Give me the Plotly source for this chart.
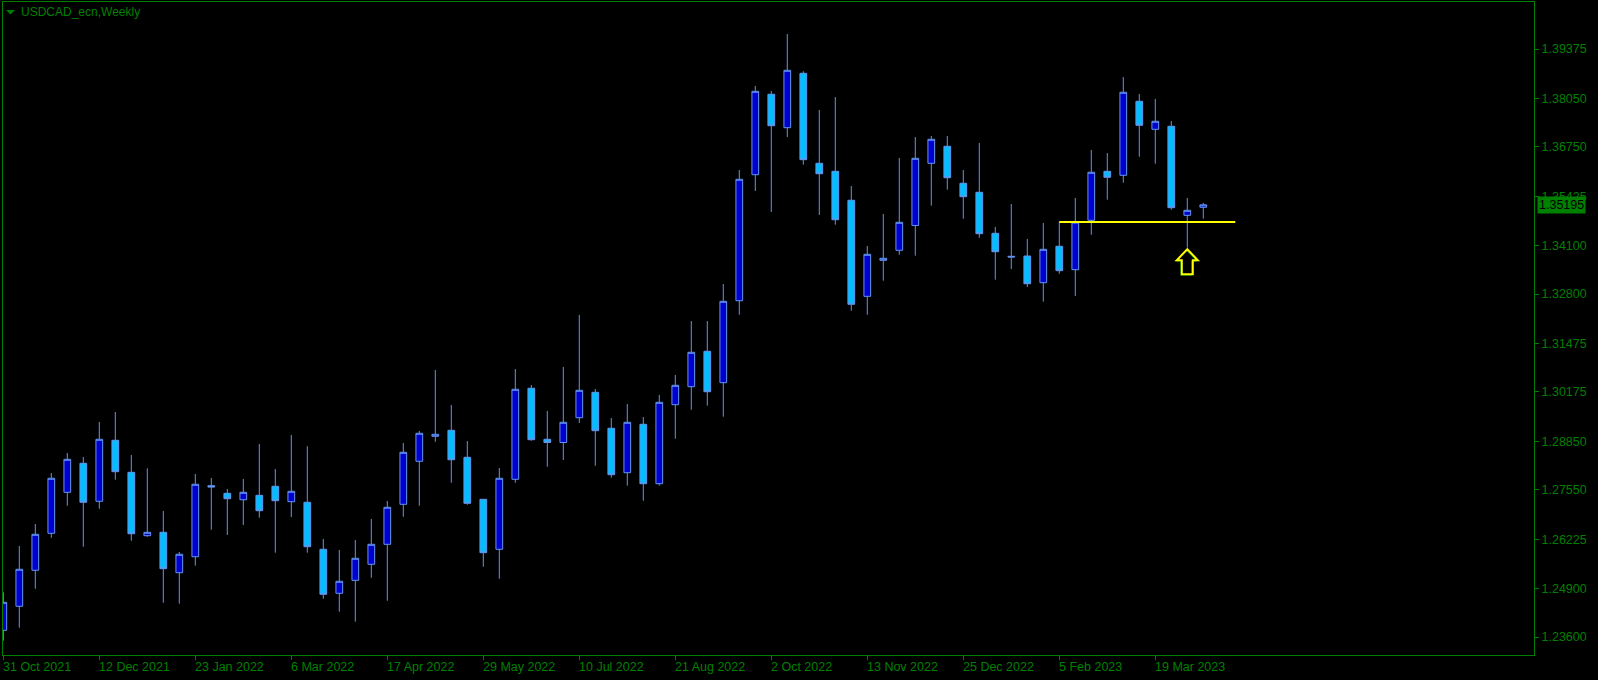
import plotly.graph_objects as go

# ---- data (weekly USDCAD) ----
week_index = list(range(76))
opens = [
    1.23782, 1.24426, 1.25392, 1.26384, 1.27484, 1.28262, 1.27243, 1.28879, 1.28020, 1.26320,
    1.26411, 1.25327, 1.25756, 1.27661, 1.27457, 1.27285, 1.27403, 1.27645, 1.27232, 1.27216,
    1.25955, 1.24775, 1.25123, 1.25553, 1.26089, 1.27162, 1.28316, 1.28986, 1.29147, 1.28423,
    1.27296, 1.25955, 1.27833, 1.30274, 1.28906, 1.28820, 1.29485, 1.30166, 1.29201, 1.28010,
    1.29308, 1.27715, 1.29834, 1.30317, 1.31266, 1.30424, 1.32623, 1.36003, 1.38160, 1.37264,
    1.38723, 1.36309, 1.36094, 1.35317, 1.32741, 1.33707, 1.33975, 1.34641, 1.36309, 1.36765,
    1.35773, 1.35531, 1.34431, 1.33814, 1.33822, 1.33106, 1.34083, 1.33455, 1.34780, 1.36094,
    1.35987, 1.37972, 1.37221, 1.37302, 1.34914, 1.35129]
highs = [
    1.24801, 1.26044, 1.26634, 1.28002, 1.28538, 1.28431, 1.29370, 1.29638, 1.28485, 1.28128,
    1.26982, 1.25883, 1.27975, 1.27868, 1.27572, 1.27841, 1.28780, 1.28109, 1.29021, 1.28718,
    1.26231, 1.25936, 1.26204, 1.26768, 1.27251, 1.28806, 1.29128, 1.30765, 1.29826, 1.28860,
    1.27300, 1.28136, 1.30791, 1.30362, 1.29665, 1.30845, 1.32240, 1.30255, 1.29477, 1.29853,
    1.29504, 1.30094, 1.30630, 1.32079, 1.32079, 1.33071, 1.36129, 1.38383, 1.38248, 1.39777,
    1.38777, 1.37739, 1.38087, 1.35700, 1.34091, 1.34949, 1.36451, 1.37015, 1.37041, 1.37041,
    1.36129, 1.36854, 1.34600, 1.35217, 1.34278, 1.34708, 1.34743, 1.35378, 1.36666, 1.36585,
    1.38624, 1.38168, 1.38034, 1.37444, 1.35378, 1.35244]
lows = [
    1.23503, 1.23852, 1.24898, 1.26266, 1.27125, 1.26025, 1.27044, 1.27822, 1.26186, 1.26293,
    1.24523, 1.24496, 1.25515, 1.26481, 1.26339, 1.26607, 1.26803, 1.25864, 1.26821, 1.25864,
    1.24630, 1.24281, 1.24013, 1.25193, 1.24576, 1.26829, 1.27125, 1.28841, 1.27741, 1.27151,
    1.25488, 1.25166, 1.27741, 1.28868, 1.28171, 1.28350, 1.29343, 1.28197, 1.27876, 1.27661,
    1.27259, 1.27661, 1.28922, 1.29700, 1.29807, 1.29512, 1.32248, 1.35566, 1.35003, 1.37015,
    1.36272, 1.34922, 1.34662, 1.32355, 1.32248, 1.33160, 1.33857, 1.33831, 1.35172, 1.35601,
    1.34823, 1.34313, 1.33187, 1.33474, 1.32991, 1.32597, 1.33348, 1.32750, 1.34394, 1.35333,
    1.35789, 1.36486, 1.36298, 1.35064, 1.34045, 1.34823]
closes = [
    1.24533, 1.25419, 1.26357, 1.27860, 1.28369, 1.27216, 1.28906, 1.28037, 1.26373, 1.26411,
    1.25435, 1.25821, 1.27699, 1.27626, 1.27312, 1.27484, 1.26990, 1.27259, 1.27511, 1.26025,
    1.24748, 1.25097, 1.25714, 1.26089, 1.27082, 1.28557, 1.29067, 1.29040, 1.28358, 1.27189,
    1.25864, 1.27860, 1.30247, 1.28895, 1.28820, 1.29362, 1.30220, 1.29136, 1.27956, 1.29362,
    1.27715, 1.29898, 1.30354, 1.31239, 1.30182, 1.32607, 1.35880, 1.38240, 1.37318, 1.38804,
    1.36406, 1.36030, 1.34796, 1.32527, 1.33868, 1.33761, 1.34726, 1.36443, 1.36953, 1.35923,
    1.35413, 1.34421, 1.33938, 1.33796, 1.33079, 1.34002, 1.33428, 1.34734, 1.36068, 1.35934,
    1.38214, 1.37328, 1.37436, 1.35118, 1.35048, 1.35195]

date_tick_index = [0, 6, 12, 18, 24, 30, 36, 42, 48, 54, 60, 66, 72]
date_tick_labels = ["31 Oct 2021", "12 Dec 2021", "23 Jan 2022", "6 Mar 2022", "17 Apr 2022",
                    "29 May 2022", "10 Jul 2022", "21 Aug 2022", "2 Oct 2022", "13 Nov 2022",
                    "25 Dec 2022", "5 Feb 2023", "19 Mar 2023"]
price_ticks = [1.39375, 1.38050, 1.36750, 1.35425, 1.34100, 1.32800, 1.31475,
               1.30175, 1.28850, 1.27550, 1.26225, 1.24900, 1.23600]

level_price = 1.34734     # yellow horizontal trend line
level_start = 66
level_end = 77
arrow_index = 74          # up-arrow marker below this candle's low
last_price = closes[-1]
title_text = "USDCAD_ecn,Weekly"

# ---- style ----
GREEN = "#008000"
WICK = "#6495ED"
BULL = "#0000CD"
BEAR = "#00BFFF"
FONT = "Liberation Sans"

fig = go.Figure()
fig.add_trace(go.Candlestick(
    x=week_index, open=opens, high=highs, low=lows, close=closes,
    increasing=dict(fillcolor=BULL, line=dict(color=WICK, width=1)),
    decreasing=dict(fillcolor=BEAR, line=dict(color=WICK, width=1)),
    whiskerwidth=0, showlegend=False, hoverinfo="skip",
))

# yellow level line
fig.add_trace(go.Scatter(
    x=[level_start, level_end], y=[level_price, level_price], mode="lines",
    line=dict(color="#FFFF00", width=2), showlegend=False, hoverinfo="skip",
))

shapes = []
# up arrow (outline) anchored at the candle low, drawn in pixel offsets
arrow_path = "M 0,-1.5 L 10.5,-12.5 L 5.5,-12.5 L 5.5,-26.5 L -5.5,-26.5 L -5.5,-12.5 L -10.5,-12.5 Z"
arrow_shadow = "M -1,-2.5 L 9.5,-13.5 L 4.5,-13.5 L 4.5,-27.5 L -6.5,-27.5 L -6.5,-13.5 L -11.5,-13.5 Z"
for path, col, w in ((arrow_shadow, GREEN, 1), (arrow_path, "#FFFF00", 2)):
    shapes.append(dict(type="path", xref="x", yref="y", xsizemode="pixel", ysizemode="pixel",
                       xanchor=arrow_index, yanchor=lows[arrow_index], path=path,
                       line=dict(color=col, width=w), fillcolor="rgba(0,0,0,0)", layer="above"))
# small triangle before the title
shapes.append(dict(type="path", xref="paper", yref="paper", xsizemode="pixel", ysizemode="pixel",
                   xanchor=0, yanchor=1, path="M 3,-8 L 12,-8 L 7.5,-12.5 Z",
                   line=dict(color=GREEN, width=0), fillcolor=GREEN))

annotations = []
for xi, lab in zip(date_tick_index, date_tick_labels):
    annotations.append(dict(x=xi, y=0, xref="x", yref="paper", text=lab, showarrow=False,
                            xanchor="left", yanchor="middle", xshift=-2, yshift=-12,
                            font=dict(family=FONT, size=12.5, color=GREEN)))
annotations.append(dict(x=0, y=1, xref="paper", yref="paper", text=title_text, showarrow=False,
                        xanchor="left", yanchor="middle", xshift=16, yshift=-10,
                        font=dict(family=FONT, size=12, color=GREEN)))
annotations.append(dict(x=1, y=last_price, xref="paper", yref="y", text=f"{last_price:.5f}",
                        showarrow=False, xanchor="left", yanchor="middle", xshift=3,
                        bgcolor=GREEN, borderpad=1,
                        font=dict(family=FONT, size=12.5, color="#000000")))

fig.update_layout(
    width=1598, height=680,
    margin=dict(l=3, r=64, t=2, b=25, pad=0),
    paper_bgcolor="#000000", plot_bgcolor="#000000",
    boxgap=0.4,
    showlegend=False,
    shapes=shapes, annotations=annotations,
    xaxis=dict(range=[-0.019, 95.67], showgrid=False, zeroline=False,
               showline=True, linecolor=GREEN, linewidth=1, mirror=True,
               tickmode="array", tickvals=date_tick_index, showticklabels=False,
               ticks="outside", ticklen=4, tickcolor=GREEN, tickwidth=1,
               rangeslider=dict(visible=False), fixedrange=True),
    yaxis=dict(range=[1.231197, 1.406357], side="right", showgrid=False, zeroline=False,
               showline=True, linecolor=GREEN, linewidth=1, mirror=True,
               tickmode="array", tickvals=price_ticks,
               ticktext=[f"{v:.5f}" for v in price_ticks],
               ticks="outside", ticklen=4, tickcolor=GREEN, tickwidth=1,
               tickfont=dict(family=FONT, size=12.5, color=GREEN), fixedrange=True),
)

fig.write_html("out.html", config={"displayModeBar": False},
               post_script="document.body.style.margin='0';")
